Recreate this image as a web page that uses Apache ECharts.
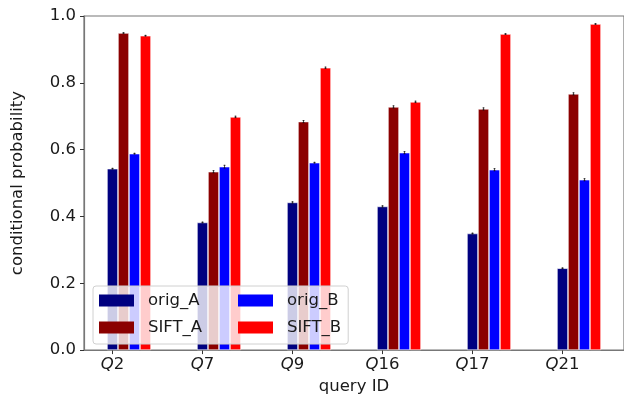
<!DOCTYPE html>
<html>
<head>
<meta charset="utf-8">
<script src="https://cdn.jsdelivr.net/npm/echarts@6/dist/echarts.min.js"></script>
<style>html,body{margin:0;padding:0;background:#fff}#c{width:624px;height:400px}</style>
</head>
<body>
<div id="c"></div>
<script>
const categories = ['Q2', 'Q7', 'Q9', 'Q16', 'Q17', 'Q21'];
const seriesNames = ['orig_A', 'SIFT_A', 'orig_B', 'SIFT_B'];
const origA = [0.543, 0.382, 0.442, 0.430, 0.349, 0.245];
const siftA = [0.949, 0.534, 0.684, 0.728, 0.722, 0.767];
const origB = [0.588, 0.549, 0.561, 0.591, 0.540, 0.510];
const siftB = [0.941, 0.698, 0.845, 0.743, 0.946, 0.976];
const errOrigA = [0.001, 0.001, 0.002, 0.002, 0.001, 0.001];
const errSiftA = [0.001, 0.003, 0.003, 0.003, 0.003, 0.003];
const errOrigB = [0.001, 0.004, 0.001, 0.003, 0.003, 0.003];
const errSiftB = [0.001, 0.002, 0.002, 0.002, 0.001, 0.001];
const yTickLabels = ['0.0', '0.2', '0.4', '0.6', '0.8', '1.0'];

const FONT = 'DejaVu Sans';
const FS = 16.5;
const colors = ['#000080', '#8b0000', '#0000ff', '#ff0000'];
const values = [origA, siftA, origB, siftB];
const errors = [errOrigA, errSiftA, errOrigB, errSiftB];
const BAR_W = 11;
const AXIS_C = '#777777';
const TXT_C = '#1a1a1a';
// label/tick offset (category units): ticks sit at the first bar of each group
const LABEL_SHIFT = 1.5 * BAR_W / 90.5;
const tickPositions = categories.map((_, i) => i - LABEL_SHIFT);

const chart = echarts.init(document.getElementById('c'), null, {renderer: 'canvas'});

const barSeries = seriesNames.map((name, k) => ({
  name: name,
  type: 'bar',
  xAxisIndex: 0,
  data: values[k],
  barWidth: BAR_W,
  barGap: '0%',
  itemStyle: {color: colors[k], borderColor: '#ffffff', borderWidth: 0.6},
  emphasis: {disabled: true},
  z: 2
}));

const errSeries = seriesNames.map((name, k) => ({
  type: 'custom',
  xAxisIndex: 0,
  silent: true,
  z: 5,
  data: values[k].map((v, i) => [i, v, errors[k][i]]),
  renderItem: function (params, api) {
    const i = api.value(0), v = api.value(1), e = api.value(2);
    const off = (k - 1.5) * BAR_W;
    const t = api.coord([i, v + e]);
    const b = api.coord([i, v - e]);
    const x = t[0] + off;
    const st = {stroke: '#111', lineWidth: 1, opacity: 0.7};
    return {
      type: 'group',
      children: [
        {type: 'line', shape: {x1: x, y1: t[1] - 0.5, x2: x, y2: b[1] + 0.5}, style: st},
        {type: 'line', shape: {x1: x - 1, y1: t[1], x2: x + 1, y2: t[1]}, style: st},
        {type: 'line', shape: {x1: x - 1, y1: b[1], x2: x + 1, y2: b[1]}, style: st}
      ]
    };
  }
}));

const wideNames = {'orig_A': true, 'SIFT_A': true};

chart.setOption({
  animation: false,
  backgroundColor: '#ffffff',
  textStyle: {fontFamily: FONT},
  grid: {left: 84, top: 16, width: 543, height: 335, show: true,
         borderColor: AXIS_C, borderWidth: 1.2, backgroundColor: 'transparent'},
  legend: {
    left: 93, top: 286, width: 262,
    orient: 'horizontal',
    icon: 'rect',
    itemWidth: 35, itemHeight: 12, itemGap: 10,
    padding: [6, 7, 8, 6],
    backgroundColor: 'rgba(255,255,255,0.8)',
    borderColor: '#d0d0d0', borderWidth: 1, borderRadius: 3,
    itemStyle: {borderWidth: 0},
    textStyle: {fontSize: FS, color: TXT_C, fontFamily: FONT,
      rich: {
        w: {fontSize: FS, color: TXT_C, fontFamily: FONT, width: 80, lineHeight: 16, padding: [0, 0, 0, 9]},
        n: {fontSize: FS, color: TXT_C, fontFamily: FONT, lineHeight: 16, padding: [0, 0, 0, 9]}
      }
    },
    formatter: function (name) {
      return (wideNames[name] ? '{w|' : '{n|') + name + '}';
    },
    data: ['orig_A', 'orig_B', 'SIFT_A', 'SIFT_B'],
    selectedMode: false
  },
  xAxis: [
    {type: 'category', data: categories, show: false, boundaryGap: true},
    {
      type: 'value', min: -0.5, max: 5.5, position: 'bottom',
      name: 'query ID', nameLocation: 'middle', nameGap: 27,
      nameTextStyle: {fontSize: FS, color: TXT_C, fontFamily: FONT},
      axisLine: {show: true, onZero: false, lineStyle: {color: AXIS_C, width: 1.2}},
      axisTick: {show: true, length: 4, customValues: tickPositions, lineStyle: {color: '#333'}},
      splitLine: {show: false},
      axisLabel: {
        customValues: tickPositions,
        margin: 6,
        fontSize: FS, color: TXT_C, fontFamily: FONT,
        formatter: function (v) {
          const idx = Math.round(v + LABEL_SHIFT);
          const c = categories[idx] || '';
          return '{q|' + c.charAt(0) + '}{n|' + c.slice(1) + '}';
        },
        rich: {
          q: {fontSize: FS, fontStyle: 'italic', color: TXT_C, fontFamily: FONT},
          n: {fontSize: FS, color: TXT_C, fontFamily: FONT}
        }
      }
    }
  ],
  yAxis: {
    type: 'value', min: 0, max: 1, interval: 0.2,
    name: 'conditional probability', nameLocation: 'middle', nameGap: 58,
    nameTextStyle: {fontSize: FS, color: TXT_C, fontFamily: FONT},
    axisLine: {show: true, onZero: false, lineStyle: {color: AXIS_C, width: 1.2}},
    axisTick: {show: true, length: 4, lineStyle: {color: '#333'}},
    splitLine: {show: false},
    axisLabel: {
      margin: 8, fontSize: FS, color: TXT_C, fontFamily: FONT,
      formatter: function (v) { return yTickLabels[Math.round(v / 0.2)]; }
    }
  },
  series: barSeries.concat(errSeries)
});
</script>
</body>
</html>
